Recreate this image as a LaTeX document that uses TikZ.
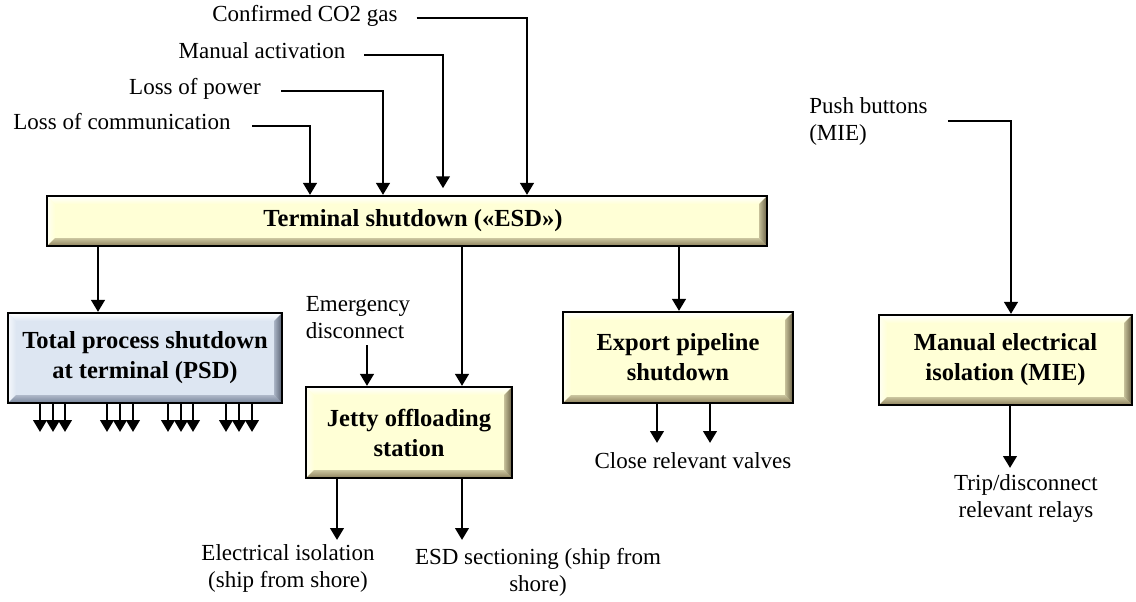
\documentclass[tikz,border=0pt]{standalone}
\usepackage{fontspec}
\setmainfont{Liberation Serif}
\usetikzlibrary{arrows.meta}

\definecolor{faceY}{RGB}{255,255,214}
\definecolor{edgeY}{RGB}{140,128,92}
\definecolor{faceB}{RGB}{221,230,242}
\definecolor{edgeB}{RGB}{118,130,152}

\tikzset{
  lbl/.style={inner sep=0pt, font=\fontsize{17.25pt}{20.25pt}\selectfont,
    text height=0.75em, text depth=0.2em},
  lbltwo/.style={inner sep=0pt, font=\fontsize{17.25pt}{20.25pt}\selectfont, align=center},
  arr/.style={line width=2.2pt, -{Triangle[width=10pt,length=9pt]}},
  % box with a bevelled rim: light top/left, dark bottom/right
  bevelbox/.style 2 args={draw=black, line width=1.6pt, fill=#1, inner sep=0pt,
    align=center, font=\fontsize{18.4pt}{22.5pt}\selectfont\bfseries,
    path picture={
      \coordinate (bsw) at (path picture bounding box.south west);
      \coordinate (bne) at (path picture bounding box.north east);
      \coordinate (bnw) at (bsw |- bne);
      \coordinate (bse) at (bne |- bsw);
      \shade[top color=white, bottom color=#1]
        (bnw) -- (bne) -- ([shift={(-6pt,-6pt)}]bne) -- ([shift={(6pt,-6pt)}]bnw) -- cycle;
      \shade[left color=#1!30!white, right color=#1]
        (bnw) -- ([shift={(6pt,-6pt)}]bnw) -- ([shift={(6pt,6pt)}]bsw) -- (bsw) -- cycle;
      \shade[top color=#1!55!#2, bottom color=#2]
        (bsw) -- ([shift={(6pt,6pt)}]bsw) -- ([shift={(-6pt,6pt)}]bse) -- (bse) -- cycle;
      \shade[left color=#1!50!#2, right color=#2!75!black]
        (bse) -- ([shift={(-6pt,6pt)}]bse) -- ([shift={(-6pt,-6pt)}]bne) -- (bne) -- cycle;
    }},
}

\begin{document}
\begin{tikzpicture}[x=0.75pt,y=-0.75pt]
\useasboundingbox (0,0) rectangle (1136,601);

% main boxes
\node[bevelbox={faceY}{edgeY}, minimum width=540pt, minimum height=37.5pt]
  (esd) at (407,221) {\hspace*{9pt}Terminal shutdown («ESD»)};
\node[bevelbox={faceB}{edgeB}, minimum width=205.5pt, minimum height=67.5pt]
  (psd) at (145,358) {Total process shutdown\\at terminal (PSD)};
\node[bevelbox={faceY}{edgeY}, minimum width=154.5pt, minimum height=68.25pt]
  (jetty) at (409,432.5) {Jetty offloading\\station};
\node[bevelbox={faceY}{edgeY}, minimum width=172.5pt, minimum height=68.25pt]
  (export) at (678,357.5) {Export pipeline\\shutdown};
\node[bevelbox={faceY}{edgeY}, minimum width=189.75pt, minimum height=67.5pt]
  (mie) at (1005.5,360) {Manual electrical\\isolation (MIE)};

% trigger labels
\node[lbl] (lco2) at (305,18) {Confirmed CO2 gas};
\node[lbl] (lman) at (262,55) {Manual activation};
\node[lbl] (lpow) at (195,91) {Loss of power};
\node[lbl] (lcomm) at (122,126) {Loss of communication};
\node[lbltwo, align=left, anchor=west] (lpush) at (809,121) {Push buttons\\(MIE)};
\node[lbltwo, align=left] (ledisc) at (358,318) {Emergency\\disconnect};

% action labels
\node[lbltwo] (lelec) at (288,568) {Electrical isolation\\(ship from shore)};
\node[lbltwo] (lsect) at (538,572) {ESD sectioning (ship from\\shore)};
\node[lbl] (lvalves) at (693,465) {Close relevant valves};
\node[lbltwo] (ltrip) at (1026,498) {Trip/disconnect\\relevant relays};

% drop points of the trigger lines
\coordinate (kco2) at (527,0);
\coordinate (kman) at (443,0);
\coordinate (kpow) at (383,0);
\coordinate (kcomm) at (310,0);
\coordinate (kpush) at (1011,0);

\draw[arr] ([xshift=14pt]lco2.east) -| (esd.north -| kco2);
\draw[arr, shorten >=5pt] ([xshift=14pt]lman.east) -| (esd.north -| kman);
\draw[arr] ([xshift=15pt]lpow.east) -| (esd.north -| kpow);
\draw[arr] ([xshift=16pt]lcomm.east) -| (esd.north -| kcomm);
\draw[arr] ([xshift=15pt]lpush.east) -| (mie.north -| kpush);

% ESD outputs
\coordinate (xa) at (98,0);
\coordinate (xb) at (462,0);
\coordinate (xc) at (679,0);
\draw[arr] (esd.south -| xa) -- (psd.north -| xa);
\draw[arr] (esd.south -| xb) -- (jetty.north -| xb);
\draw[arr] (esd.south -| xc) -- (export.north -| xc);

% emergency disconnect into the jetty station
\coordinate (de) at (367,345);
\draw[arr] (de) -- (jetty.north -| de);

% process shutdown fan-out
\foreach \x [count=\i] in {40,53,65,107,120,133,168,181,193,226,239,252} {
  \coordinate (pt\i) at (\x,432);
  \draw[arr] (psd.south -| pt\i) -- (pt\i);
}

% jetty outputs
\coordinate (je1) at (337,540);
\coordinate (je2) at (462,540);
\draw[arr] (jetty.south -| je1) -- (je1);
\draw[arr] (jetty.south -| je2) -- (je2);

% pipeline outputs
\coordinate (ex1) at (657,443);
\coordinate (ex2) at (710,443);
\draw[arr] (export.south -| ex1) -- (ex1);
\draw[arr] (export.south -| ex2) -- (ex2);

% isolation output
\coordinate (mo) at (1010,468);
\draw[arr] (mie.south -| mo) -- (mo);
\end{tikzpicture}
\end{document}
